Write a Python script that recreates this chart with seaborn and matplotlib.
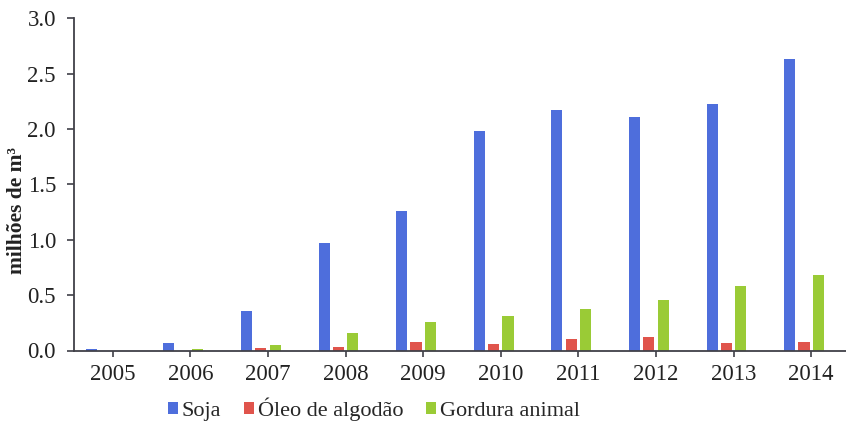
import matplotlib
matplotlib.use("Agg")
import matplotlib.pyplot as plt
from matplotlib.patches import Patch
import pandas as pd
import seaborn as sns

# Biodiesel feedstock volumes, millions of m³
years = ["2005", "2006", "2007", "2008", "2009", "2010", "2011", "2012", "2013", "2014"]
soja = [0.016, 0.065, 0.36, 0.97, 1.26, 1.98, 2.17, 2.11, 2.23, 2.63]
oleo_algodao = [0.0, 0.0, 0.02, 0.03, 0.077, 0.056, 0.104, 0.119, 0.068, 0.08]
gordura_animal = [0.0, 0.01, 0.047, 0.155, 0.257, 0.31, 0.372, 0.459, 0.583, 0.685]
series_names = ["Soja", "Óleo de algodão", "Gordura animal"]
y_ticks = [0.0, 0.5, 1.0, 1.5, 2.0, 2.5, 3.0]

colors = ["#4e6edc", "#e0544c", "#9acb36"]

df = pd.DataFrame({
    "ano": years * 3,
    "serie": [series_names[0]] * len(years) + [series_names[1]] * len(years)
             + [series_names[2]] * len(years),
    "valor": soja + oleo_algodao + gordura_animal,
})

sns.set_theme(style="white")
plt.rcParams["font.family"] = ["Liberation Serif", "DejaVu Serif"]

fig = plt.figure(figsize=(8.46, 4.21), dpi=100)
ax = fig.add_axes([74 / 846, 1 - 350.5 / 421, 776 / 846, (350.5 - 18.3) / 421])

# an empty fourth slot keeps the same spacing as the original four-slot layout
hue_order = series_names + [" "]
palette = dict(zip(hue_order, colors + ["#ffffff"]))
sns.barplot(data=df, x="ano", y="valor", hue="serie", hue_order=hue_order,
            order=years, palette=palette, width=0.74, gap=0.23, dodge=True,
            saturation=1, linewidth=0, errorbar=None, legend=False, ax=ax)

ax.set_xlim(-0.5, len(years) - 0.5)
ax.set_ylim(0, 3.0)
ax.set_yticks(y_ticks)
ax.set_yticklabels([f"{v:.1f}" for v in y_ticks])
ax.set_xlabel("")
ax.set_ylabel("milhões de m³", fontsize=15.5, fontweight="bold", color="#222222")
ax.yaxis.set_label_coords(-0.061, 0.42)

for side in ["top", "right"]:
    ax.spines[side].set_visible(False)
for side in ["left", "bottom"]:
    ax.spines[side].set_color("#404048")
    ax.spines[side].set_linewidth(1.3)

ax.tick_params(axis="y", which="both", left=True, direction="out", length=5,
               width=1.2, color="#404048", labelsize=16.5, pad=8, labelcolor="#222222")
ax.tick_params(axis="x", which="both", bottom=True, direction="out", length=4,
               width=1.2, color="#404048", labelsize=16.5, pad=6, labelcolor="#222222")

handles = [Patch(facecolor=c, edgecolor="none") for c in colors]
fig.legend(handles, series_names, loc="lower center", bbox_to_anchor=(0.442, -0.047),
           ncol=3, frameon=False, fontsize=16, handlelength=0.45, handleheight=0.45,
           handletextpad=0.15, columnspacing=1.05)

fig.savefig("out.png", dpi=100)
